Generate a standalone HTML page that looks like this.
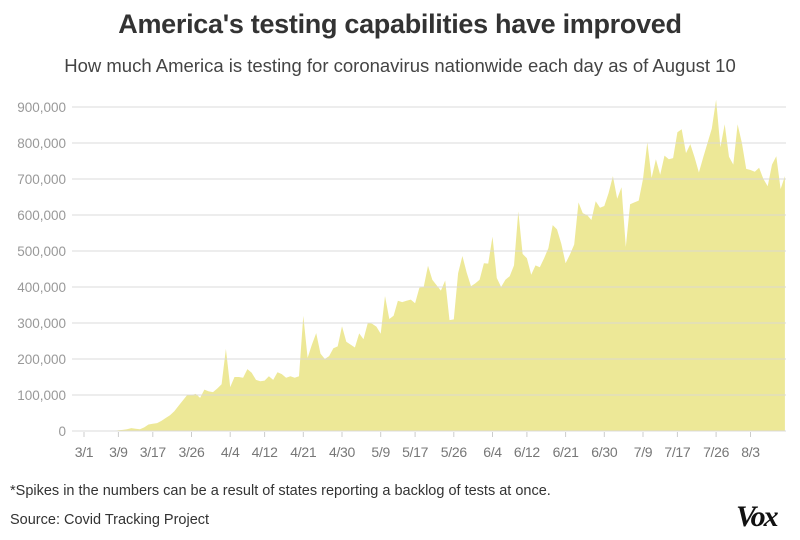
<!DOCTYPE html>
<html><head><meta charset="utf-8">
<style>
body{margin:0;background:#fff;width:800px;height:540px;overflow:hidden;font-family:"Liberation Sans",sans-serif;}
.t{position:absolute;white-space:nowrap;}
</style></head>
<body>
<div class="t" style="left:0;width:800px;text-align:center;top:9px;font-family:'Liberation Sans',sans-serif;font-weight:bold;font-size:27px;color:#333;letter-spacing:-0.3px;">America's testing capabilities have improved</div>
<div class="t" style="left:0;width:800px;text-align:center;top:55px;font-family:'Liberation Sans',sans-serif;font-size:18.5px;color:#444;">How much America is testing for coronavirus nationwide each day as of August 10</div>
<svg id="chart" width="800" height="540" style="position:absolute;left:0;top:0;"></svg>
<div class="t" style="left:10px;top:483px;font-size:14.5px;color:#333;">*Spikes in the numbers can be a result of states reporting a backlog of tests at once.</div>
<div class="t" style="left:10px;top:512px;font-size:14.5px;color:#333;">Source: Covid Tracking Project</div>
<div class="t" style="left:736px;top:500px;font-family:'Liberation Serif',serif;font-weight:bold;font-style:italic;font-size:30px;color:#111;letter-spacing:-2px;">Vox</div>
<script>
const yTicks=[0,100000,200000,300000,400000,500000,600000,700000,800000,900000];
const yTickLabels=["0","100,000","200,000","300,000","400,000","500,000","600,000","700,000","800,000","900,000"];
const xTickDays=[0,8,16,25,34,42,51,60,69,77,86,95,103,112,121,130,138,147,155];
const xTickLabels=["3/1","3/9","3/17","3/26","4/4","4/12","4/21","4/30","5/9","5/17","5/26","6/4","6/12","6/21","6/30","7/9","7/17","7/26","8/3"];
// daily tests (thousands), starting 3/1
const dailyTestsK=[0,0,0,0,0,0,0,0,2,3,5,8,6,5,10,18,20,22,28,36,44,55,70,85,100,100,103,92,115,110,108,118,130,228,122,150,150,148,172,162,142,138,140,152,142,163,158,148,152,148,152,320,203,240,272,215,200,208,230,235,291,248,240,232,271,255,300,298,290,270,375,311,320,362,358,362,365,355,398,400,459,420,405,390,418,308,310,438,486,440,402,410,420,466,465,540,425,400,420,430,460,610,492,480,434,460,455,480,508,572,560,520,466,490,518,635,605,600,586,638,620,625,661,708,645,677,511,630,635,640,700,802,703,755,712,765,755,758,830,838,772,797,760,718,760,800,840,920,788,852,762,740,852,800,728,725,720,731,700,680,740,763,672,708];
const svg=document.getElementById('chart');
const NS='http://www.w3.org/2000/svg';
const x0=84,dx=4.3,yBase=431,pxPerUnit=324/900000;
const xS=d=>x0+d*dx;
const yS=v=>yBase-v*pxPerUnit;
function mk(tag,attrs){const e=document.createElementNS(NS,tag);for(const k in attrs)e.setAttribute(k,attrs[k]);svg.appendChild(e);return e;}
let d='M'+xS(0)+','+yS(0);
dailyTestsK.forEach((v,i)=>{d+=' L'+xS(i).toFixed(1)+','+yS(v*1000).toFixed(1);});
d+=' L'+xS(dailyTestsK.length-1).toFixed(1)+','+yS(0)+' Z';
const area=mk('path',{d:d,fill:'#ede897'});


yTicks.forEach((v,i)=>{
  const g=mk('line',{x1:72,x2:786,y1:yS(v),y2:yS(v),stroke:'#d8d8d8','stroke-width':1,opacity:0.9});
  
  
  const t=mk('text',{x:66,y:yS(v)+5,'text-anchor':'end','font-size':13.5,fill:'#999','font-family':'"Liberation Sans",sans-serif'});
  t.textContent=yTickLabels[i];
  
  
});
xTickDays.forEach((day,i)=>{
  const tk=mk('line',{x1:xS(day),x2:xS(day),y1:432,y2:437,stroke:'#ccc','stroke-width':1});
  
  
  const t=mk('text',{x:xS(day),y:457,'text-anchor':'middle','font-size':14,fill:'#777','font-family':'"Liberation Sans",sans-serif','letter-spacing':'-0.3'});
  t.textContent=xTickLabels[i];
  
  
});
</script>
</body></html>
